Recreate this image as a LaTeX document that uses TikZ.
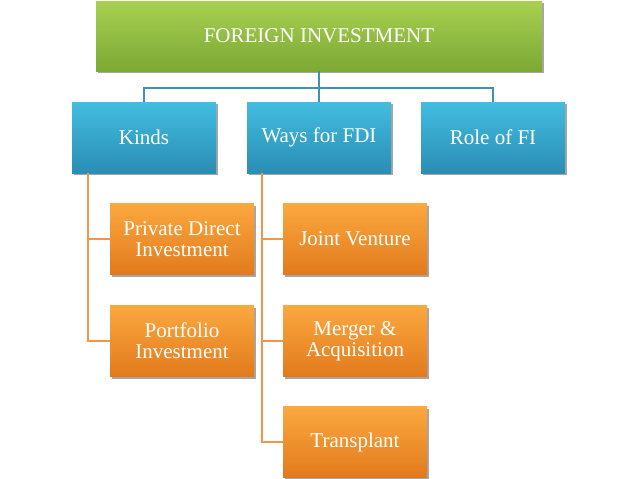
\documentclass[tikz,border=0pt]{standalone}
\usepackage{fontspec}
\setmainfont{Liberation Serif}
\usetikzlibrary{shadows}
\definecolor{gtop}{HTML}{A8D152}
\definecolor{gbot}{HTML}{7CA834}
\definecolor{btop}{HTML}{42BDE0}
\definecolor{bbot}{HTML}{2A8DB4}
\definecolor{otop}{HTML}{FBA83F}
\definecolor{obot}{HTML}{E27A1C}
\definecolor{bline}{HTML}{3D93B3}
\definecolor{oline}{HTML}{F0954A}
\tikzset{
  box/.style={rectangle, inner sep=2pt, align=center, text=white,
    font=\fontsize{21}{21}\selectfont,
    drop shadow={shadow xshift=1.5pt, shadow yshift=-2pt, opacity=0.35, fill=black}},
  greenbox/.style={box, top color=gtop, bottom color=gbot, minimum width=446pt, minimum height=70pt},
  bluebox/.style={box, top color=btop, bottom color=bbot, minimum width=144pt, minimum height=71pt},
  orangebox/.style={box, top color=otop, bottom color=obot, minimum width=144pt, minimum height=71pt},
  bconn/.style={draw=bline, line width=2pt},
  oconn/.style={draw=oline, line width=2pt}
}
\begin{document}
\begin{tikzpicture}[x=1pt,y=-1pt]
\useasboundingbox (0,0) rectangle (638,479);
\node[greenbox] (fi) at (319,36) {FOREIGN INVESTMENT};
\node[bluebox] (kinds) at (144,137.5) {Kinds};
\node[bluebox] (ways) at (319,137.5) {Ways for FDI};
\node[bluebox] (role) at (493,137.5) {Role of FI};
\node[orangebox] (pdi) at (182,239) {Private Direct\\Investment};
\node[orangebox] (pi) at (182,341) {Portfolio\\Investment};
\node[orangebox] (jv) at (355,239) {Joint Venture};
\node[orangebox] (ma) at (355,341) {Merger \&\\Acquisition};
\node[orangebox] (tp) at (355,442) {Transplant};
\coordinate (bus) at (319,88);
\draw[bconn] (fi.south) -- (ways.north);
\draw[bconn] (kinds.north) |- (bus) -| (role.north);
\draw[oconn] ([xshift=16pt]kinds.south west) |- (pdi.west);
\draw[oconn] ([xshift=16pt]kinds.south west) |- (pi.west);
\draw[oconn] ([xshift=15pt]ways.south west) |- (jv.west);
\draw[oconn] ([xshift=15pt]ways.south west) |- (ma.west);
\draw[oconn] ([xshift=15pt]ways.south west) |- (tp.west);
\end{tikzpicture}
\end{document}
